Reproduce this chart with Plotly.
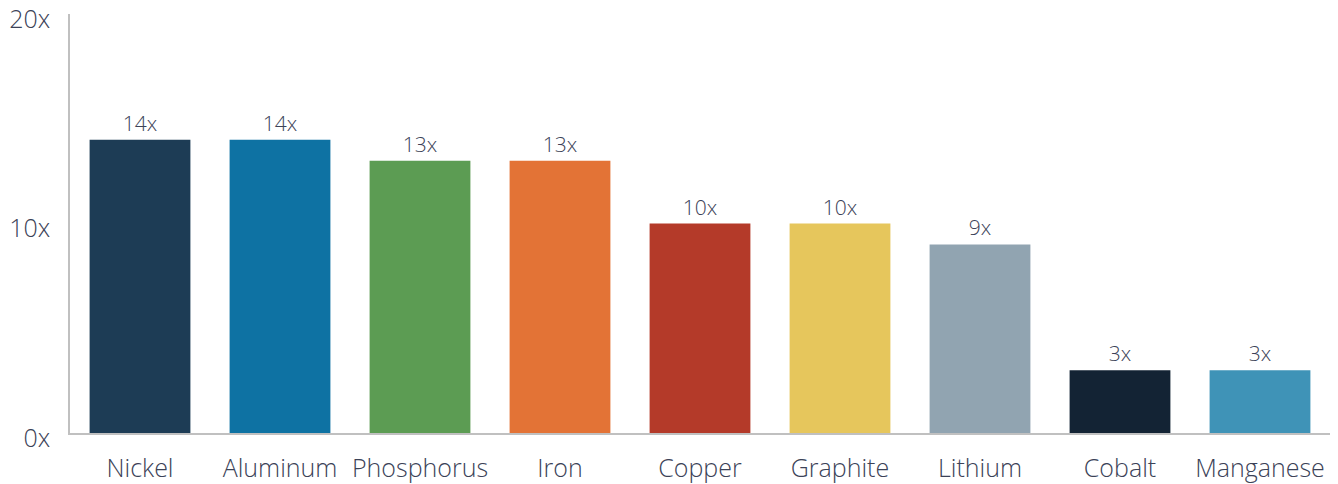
import plotly.graph_objects as go

categories = ["Nickel", "Aluminum", "Phosphorus", "Iron", "Copper", "Graphite", "Lithium", "Cobalt", "Manganese"]
values = [14, 14, 13, 13, 10, 10, 9, 3, 3]
labels = ["14x", "14x", "13x", "13x", "10x", "10x", "9x", "3x", "3x"]
colors = ["#1d3c55", "#0e72a3", "#5c9c53", "#e37336", "#b43a29", "#e6c65c", "#91a4b1", "#132334", "#3f93b7"]
tick_vals = [0, 10, 20]
tick_text = ["0x", "10x", "20x"]

text_color = "#3b4257"
font_family = "Open Sans, sans-serif"

fig = go.Figure(go.Bar(
    x=categories, y=values, text=labels, textposition="outside",
    marker=dict(color=colors, line=dict(width=0)),
    textfont=dict(size=21, color=text_color, family=font_family, weight=300),
    cliponaxis=False,
))

fig.update_layout(
    width=1338, height=484,
    margin=dict(l=70, r=8, t=14, b=51, autoexpand=False),
    paper_bgcolor="white", plot_bgcolor="white",
    bargap=0.28, showlegend=False,
    font=dict(family=font_family, color=text_color),
)
fig.update_xaxes(
    showline=True, linecolor="#c0c0c0", linewidth=1.5, showgrid=False, ticks="",
    tickfont=dict(size=25, color=text_color, weight=300), ticklabelstandoff=12,
    automargin=False,
)
fig.update_yaxes(
    range=[0, 20.0001], tickvals=tick_vals, ticktext=tick_text,
    showline=True, linecolor="#c0c0c0", linewidth=1.5, showgrid=False, zeroline=False, ticks="",
    tickfont=dict(size=25, color=text_color, weight=300), ticklabelstandoff=13,
    ticklabelshift=5, ticklabeloverflow="allow", automargin=False,
)

fig.write_html("out.html")
